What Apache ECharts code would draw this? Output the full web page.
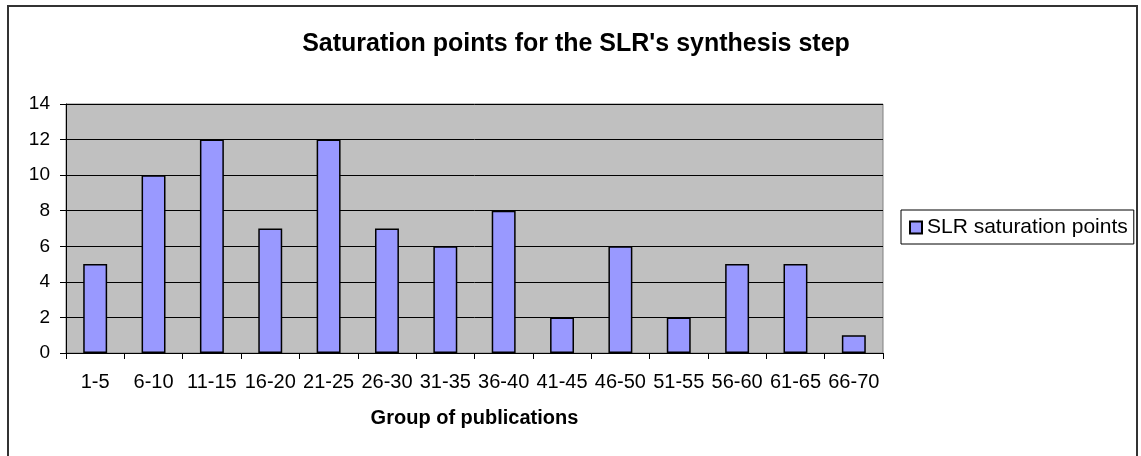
<!DOCTYPE html>
<html>
<head>
<meta charset="utf-8">
<script src="https://cdn.jsdelivr.net/npm/echarts@6/dist/echarts.min.js"></script>
<style>
  html, body { margin: 0; padding: 0; background: #fff; }
  #chart { width: 1141px; height: 456px; }
</style>
</head>
<body>
<div id="chart"></div>
<script>
const categories = ['1-5', '6-10', '11-15', '16-20', '21-25', '26-30', '31-35',
  '36-40', '41-45', '46-50', '51-55', '56-60', '61-65', '66-70'];
const saturationPoints = [5, 10, 12, 7, 12, 7, 6, 8, 2, 6, 2, 5, 5, 1];
const seriesName = 'SLR saturation points';

const font = "'Liberation Sans', Arial, sans-serif";
const chart = echarts.init(document.getElementById('chart'));

const option = {
  animation: false,
  backgroundColor: '#fff',
  textStyle: { fontFamily: font },
  title: {
    text: "Saturation points for the SLR's synthesis step",
    left: 571,
    textAlign: 'center',
    top: 27,
    textStyle: { fontFamily: font, fontSize: 25, fontWeight: 'bold', color: '#000' }
  },
  // outer chart frame, bottom edge falls outside the picture
  graphic: [{
    type: 'rect',
    shape: { x: 8, y: 6, width: 1129, height: 460 },
    style: { fill: 'none', stroke: '#333', lineWidth: 2 },
    silent: true
  }],
  legend: {
    data: [seriesName],
    left: 901,
    top: 210,
    orient: 'vertical',
    padding: [7, 6, 6, 8],
    borderColor: '#000',
    borderWidth: 1,
    itemWidth: 12,
    itemHeight: 12,
    icon: 'rect',
    textStyle: { fontFamily: font, fontSize: 21, color: '#000' }
  },
  grid: {
    left: 66,
    top: 104,
    width: 817,
    height: 249,
    show: true,
    backgroundColor: '#C0C0C0',
    borderColor: '#808080',
    borderWidth: 1
  },
  xAxis: {
    type: 'category',
    data: categories,
    name: 'Group of publications',
    nameLocation: 'middle',
    nameGap: 55,
    nameTextStyle: { fontFamily: font, fontSize: 20, fontWeight: 'bold', color: '#000' },
    axisLine: { lineStyle: { color: '#000', width: 1 } },
    axisTick: { show: true, length: 6, lineStyle: { color: '#000' } },
    axisLabel: { fontFamily: font, fontSize: 20, color: '#000', margin: 19, interval: 0 }
  },
  yAxis: {
    type: 'value',
    min: 0,
    max: 14,
    interval: 2,
    axisLine: { show: true, lineStyle: { color: '#000', width: 1 } },
    axisTick: { show: true, length: 6, lineStyle: { color: '#000' } },
    axisLabel: { fontFamily: font, fontSize: 19, color: '#000', margin: 16 },
    splitLine: { show: true, lineStyle: { color: '#000', width: 1 } }
  },
  series: [{
    name: seriesName,
    type: 'bar',
    data: saturationPoints,
    barWidth: '41%',
    itemStyle: { color: '#9999FF', borderColor: '#000', borderWidth: 1.5 }
  }]
};

chart.setOption(option);
</script>
</body>
</html>
